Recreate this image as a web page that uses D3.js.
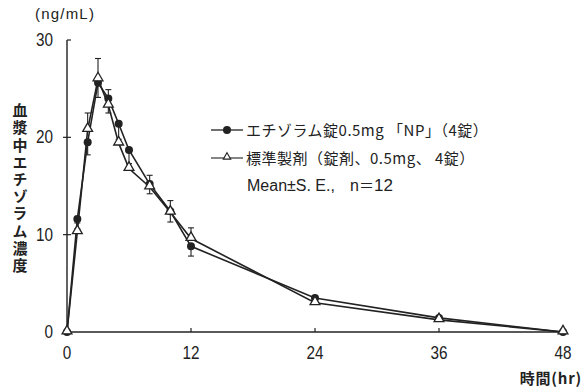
<!DOCTYPE html>
<html><head><meta charset="utf-8">
<script src="https://cdn.jsdelivr.net/npm/d3@7"></script>
<style>
body{margin:0;background:#fff;}
svg text{fill:#222;}
</style></head>
<body>
<svg id="chart" width="587" height="392"></svg>
<script>
const hours = [0, 1, 2, 3, 4, 5, 6, 8, 10, 12, 24, 36, 48];
const testMean = [0, 11.6, 19.5, 25.6, 24.0, 21.4, 18.7, 15.2, 12.4, 8.8, 3.5, 1.45, 0];
const testErrUp = [0, 0, 0, 0, 0.9, 0, 0, 0.9, 0, 0, 0, 0, 0];
const testErrDown = [0, 0.4, 1.3, 1.5, 0, 1.6, 1.4, 0, 1.1, 1.0, 0.2, 0.1, 0];
const refMean = [0, 10.3, 20.8, 26.0, 23.3, 19.4, 16.8, 14.9, 12.3, 9.6, 3.0, 1.25, 0];
const refErrUp = [0, 0.3, 1.7, 2.1, 0, 0, 0, 0, 1.2, 1.1, 0.2, 0.1, 0];
const refErrDown = [0, 0, 0, 0, 0.8, 0, 0, 0.7, 0, 0, 0, 0, 0];
const xTicks = [0, 12, 24, 36, 48];
const yTicks = [0, 10, 20, 30];
const legendLabels = ["エチゾラム錠0.5mg 「NP」（4錠）", "標準製剤（錠剤、0.5mg、 4錠）"];
const noteParts = ["Mean±S. E.,", "n", "＝", "12"];
const yTitle = "血漿中エチゾラム濃度";
const unitLabel = "(ng/mL)";
const xTitle = "時間(hr)";

const svg = d3.select("#chart");
const x = d3.scaleLinear().domain([0, 48]).range([67, 563]);
const y = d3.scaleLinear().domain([0, 30]).range([332, 40]);
const numFont = "'Liberation Sans',sans-serif";
const jpFont = "'Noto Sans CJK JP',sans-serif";
const ink = "#222";

// axes
svg.append("line").attr("x1", x(0)).attr("x2", x(0)).attr("y1", y(30)).attr("y2", y(0)).attr("stroke", ink).attr("stroke-width", 1.4);
svg.append("line").attr("x1", x(0)).attr("x2", x(48) + 2).attr("y1", y(0)).attr("y2", y(0)).attr("stroke", ink).attr("stroke-width", 1.4);
yTicks.forEach(t => {
  if (t === 0) return;
  const x1 = t === 30 ? x(0) : x(0) - 4;
  svg.append("line").attr("x1", x1).attr("x2", x(0) + 4).attr("y1", y(t)).attr("y2", y(t)).attr("stroke", ink).attr("stroke-width", 1.2);
});
xTicks.forEach(t => {
  if (t === 0) return;
  svg.append("line").attr("x1", x(t)).attr("x2", x(t)).attr("y1", y(0)).attr("y2", y(0) - 4).attr("stroke", ink).attr("stroke-width", 1.2);
});
svg.selectAll("text.yt").data(yTicks).enter().append("text")
  .attr("transform", d => `translate(53,${y(d) + 6}) scale(0.85,1)`).attr("text-anchor", "end")
  .style("font-family", numFont).style("font-size", "18px").text(d => d);
svg.selectAll("text.xt").data(xTicks).enter().append("text")
  .attr("transform", d => `translate(${x(d)},359) scale(0.85,1)`).attr("text-anchor", "middle")
  .style("font-family", numFont).style("font-size", "18px").text(d => d);

svg.append("text").attr("x", 35).attr("y", 19).style("font-family", numFont).style("font-size", "15px").style("letter-spacing", "1.2px").text(unitLabel);
svg.append("text").attr("x", 582).attr("y", 384).attr("text-anchor", "end").style("font-family", jpFont).style("font-size", "15px").style("font-weight", "bold").style("letter-spacing", "0.8px").text(xTitle);

// vertical y-axis title as a single text
svg.append("text").attr("x", 20).attr("y", 103)
  .style("writing-mode", "vertical-rl").style("text-orientation", "upright")
  .style("font-family", jpFont).style("font-size", "15px").style("font-weight", "bold")
  .style("letter-spacing", "2.2px").text(yTitle);

// error bars
function errBars(means, up, down) {
  hours.forEach((h, i) => {
    const cx = x(h);
    [[up[i], 1], [down[i], -1]].forEach(([e, s]) => {
      if (!e) return;
      const y0 = y(means[i]), y1 = y(means[i] + s * e);
      svg.append("line").attr("x1", cx).attr("x2", cx).attr("y1", y0).attr("y2", y1).attr("stroke", ink).attr("stroke-width", 1.1);
      svg.append("line").attr("x1", cx - 3).attr("x2", cx + 3).attr("y1", y1).attr("y2", y1).attr("stroke", ink).attr("stroke-width", 1.1);
    });
  });
}
errBars(testMean, testErrUp, testErrDown);
errBars(refMean, refErrUp, refErrDown);

const line = d3.line().x((d, i) => x(hours[i])).y(d => y(d));
svg.append("path").datum(refMean).attr("d", line).attr("fill", "none").attr("stroke", ink).attr("stroke-width", 1.6);
svg.append("path").datum(testMean).attr("d", line).attr("fill", "none").attr("stroke", ink).attr("stroke-width", 1.6);

const tri = d3.symbol().type(d3.symbolTriangle).size(42);
function triangle(g, cx, cy) {
  g.append("path").attr("d", tri()).attr("transform", `translate(${cx},${cy - 1})`).attr("fill", "#fff").attr("stroke", ink).attr("stroke-width", 1.3);
}
function dot(g, cx, cy) {
  g.append("circle").attr("cx", cx).attr("cy", cy).attr("r", 4).attr("fill", ink);
}
testMean.forEach((v, i) => dot(svg, x(hours[i]), y(v)));
refMean.forEach((v, i) => triangle(svg, x(hours[i]), y(v)));

// legend
const lg = svg.append("g");
const rows = [130, 158];
lg.append("line").attr("x1", 211).attr("x2", 243).attr("y1", rows[0]).attr("y2", rows[0]).attr("stroke", ink).attr("stroke-width", 1.3);
dot(lg, 227, rows[0]);
lg.append("line").attr("x1", 211).attr("x2", 243).attr("y1", rows[1]).attr("y2", rows[1]).attr("stroke", ink).attr("stroke-width", 1.1);
lg.append("path").attr("d", d3.symbol().type(d3.symbolTriangle).size(24)()).attr("transform", `translate(227,${rows[1] - 1})`).attr("fill", "#fff").attr("stroke", ink).attr("stroke-width", 1.1);
legendLabels.forEach((t, i) => {
  lg.append("text").attr("x", 246).attr("y", rows[i] + 6)
    .style("font-family", jpFont).style("font-size", "15px").style("letter-spacing", "0.5px").style("white-space", "pre").text(t);
});
const note = lg.append("text").attr("y", 191).style("font-family", "'Liberation Sans',sans-serif").style("font-size", "16px");
note.append("tspan").attr("x", 247).text(noteParts[0]);
note.append("tspan").attr("x", 350).text(noteParts[1]);
note.append("tspan").style("font-family", jpFont).style("font-size", "15px").text(noteParts[2]);
note.append("tspan").style("font-size", "17px").text(noteParts[3]);
</script>
</body></html>
